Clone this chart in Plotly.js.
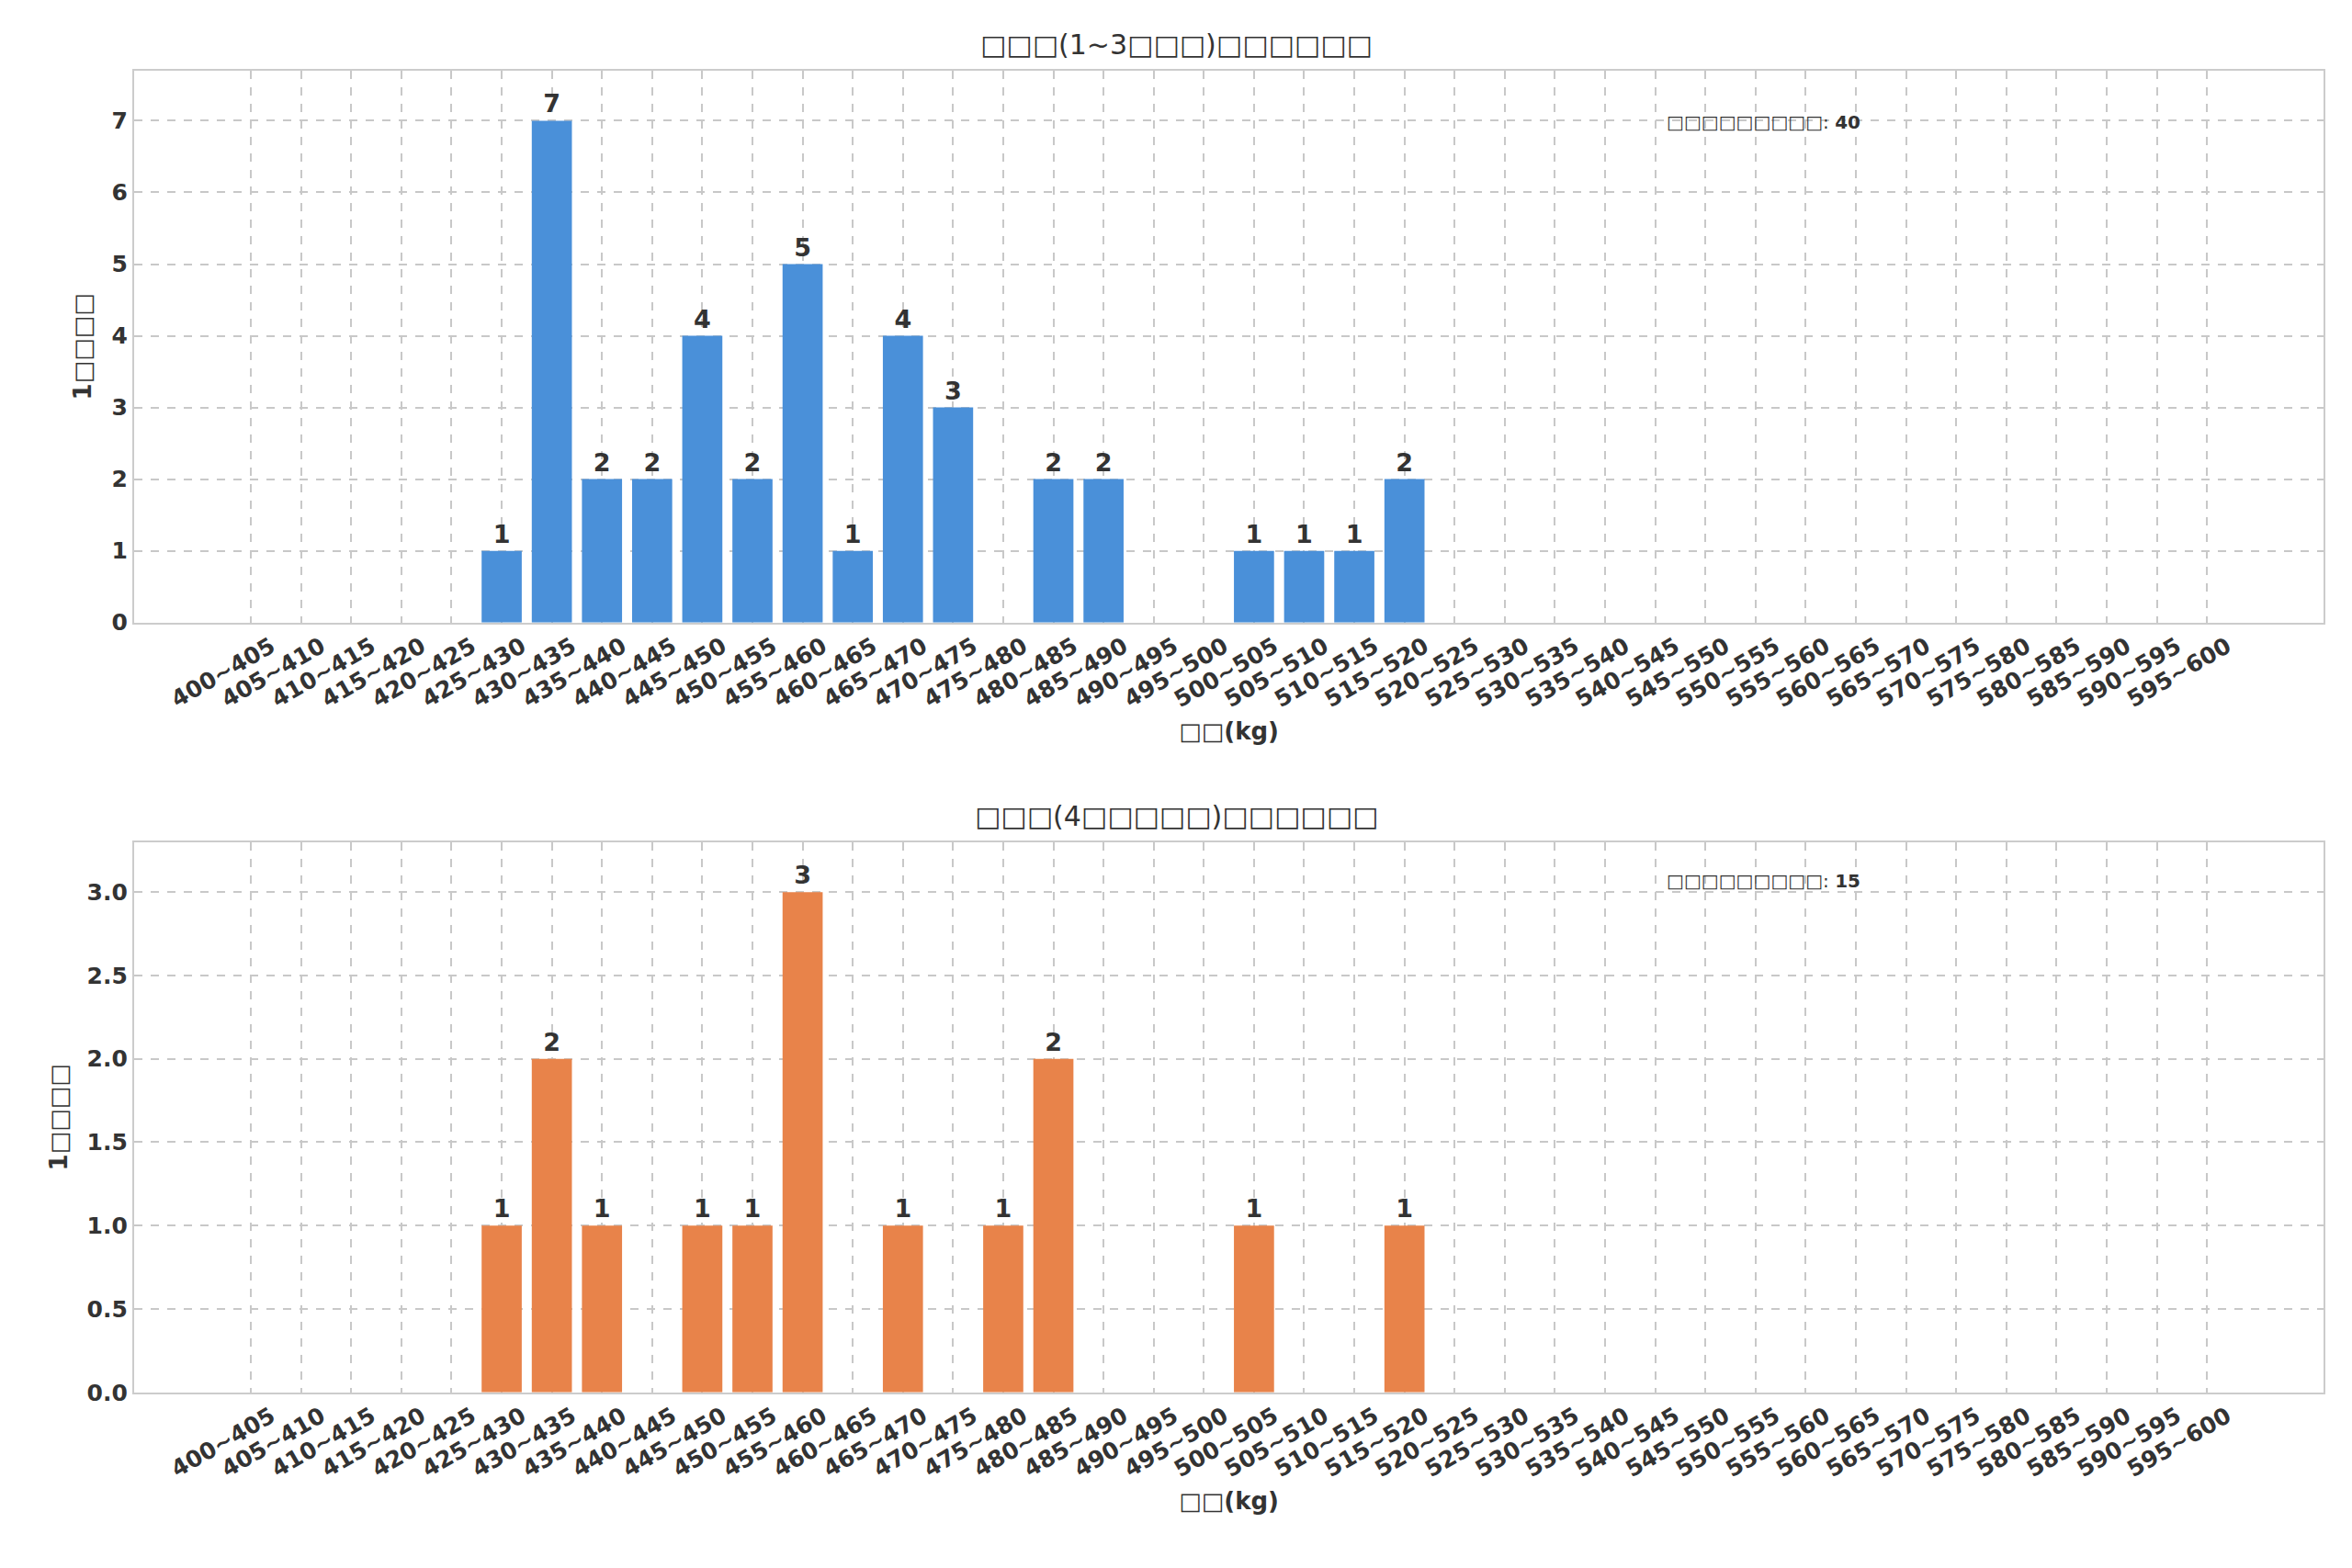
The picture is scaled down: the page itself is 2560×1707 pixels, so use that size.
<!DOCTYPE html>
<html><head><meta charset="utf-8">
<script src="https://cdn.plot.ly/plotly-3.0.1.min.js"></script>
<style>body{margin:0;background:#fff}</style>
</head><body>
<div id="chart" style="width:2560px;height:1707px"></div>
<script>
// weight bins 400~405 ... 595~600
const bins = [];
for (let w = 400; w < 600; w += 5) bins.push(w + '~' + (w + 5));

const countsA = [0,0,0,0,0,1,7,2,2,4,2,5,1,4,3,0,2,2,0,0,1,1,1,2,0,0,0,0,0,0,0,0,0,0,0,0,0,0,0,0];
const countsB = [0,0,0,0,0,1,2,1,0,1,1,3,0,1,0,1,2,0,0,0,1,0,0,1,0,0,0,0,0,0,0,0,0,0,0,0,0,0,0,0];
const titleA = '□□□(1~3□□□)□□□□□□';
const titleB = '□□□(4□□□□□)□□□□□□';
const totalLabel = '□□□□□□□□□';
const totalA = 40, totalB = 15;

const labels = a => a.map(v => v > 0 ? String(v) : '');
const font = {family: 'DejaVu Sans', color: '#333'};

const bar = (y, color, xa, ya) => ({
  type: 'bar', x: bins, y: y, xaxis: xa, yaxis: ya,
  marker: {color: color}, width: 0.8,
  text: labels(y), textposition: 'outside', cliponaxis: false,
  textfont: {family: 'DejaVu Sans', size: 27, color: '#333', weight: 'bold'}
});

const xax = (anchor) => ({
  domain: [0.057, 0.988], anchor: anchor, type: 'category',
  range: [-2.33, 41.33], tickangle: -30, ticklabelshift: 22,
  tickfont: {family: 'DejaVu Sans', size: 25, color: '#333', weight: 'bold'},
  showgrid: true, gridcolor: '#c8c8c8', griddash: 'dash', gridwidth: 2,
  showline: true, linecolor: '#cccccc', mirror: true, linewidth: 2, ticks: '',
  title: {text: '□□(kg)', font: {family: 'DejaVu Sans', size: 26, color: '#333', weight: 'bold'}, standoff: 12}
});
const yax = (anchor, dom, rng, dt, fmt) => ({
  domain: dom, anchor: anchor, range: rng, dtick: dt, tickformat: fmt,
  tickfont: {family: 'DejaVu Sans', size: 25, color: '#333', weight: 'bold'},
  showgrid: true, gridcolor: '#c8c8c8', griddash: 'dash', gridwidth: 2, zeroline: false,
  showline: true, linecolor: '#cccccc', mirror: true, linewidth: 2, ticks: '',
  title: {text: '1□□□□', font: {family: 'DejaVu Sans', size: 26, color: '#333', weight: 'bold'}, standoff: 14}
});

const data = [bar(countsA, '#4a90d9', 'x', 'y'), bar(countsB, '#e8834a', 'x2', 'y2')];

const layout = {
  width: 2560, height: 1707, showlegend: false, bargap: 0.2,
  paper_bgcolor: '#fff', plot_bgcolor: '#fff',
  margin: {l: 0, r: 0, t: 0, b: 0},
  xaxis: xax('y'), yaxis: yax('x', [0.603, 0.955], [0, 7.7], 1, 'd'),
  xaxis2: xax('y2'), yaxis2: yax('x2', [0.112, 0.463], [0, 3.3], 0.5, '.1f'),
  annotations: [
    {text: titleA, xref: 'paper', yref: 'paper', x: 0.5, y: 0.96, yanchor: 'bottom', showarrow: false,
     font: Object.assign({size: 30}, font)},
    {text: titleB, xref: 'paper', yref: 'paper', x: 0.5, y: 0.468, yanchor: 'bottom', showarrow: false,
     font: Object.assign({size: 30}, font)},
    {text: totalLabel + ': <b>' + totalA + '</b>', xref: 'paper', yref: 'paper', x: 0.708, y: 0.93, xanchor: 'left', showarrow: false,
     font: Object.assign({size: 20}, font)},
    {text: totalLabel + ': <b>' + totalB + '</b>', xref: 'paper', yref: 'paper', x: 0.708, y: 0.438, xanchor: 'left', showarrow: false,
     font: Object.assign({size: 20}, font)}
  ]
};

Plotly.newPlot('chart', data, layout, {displayModeBar: false});
</script>
</body></html>
